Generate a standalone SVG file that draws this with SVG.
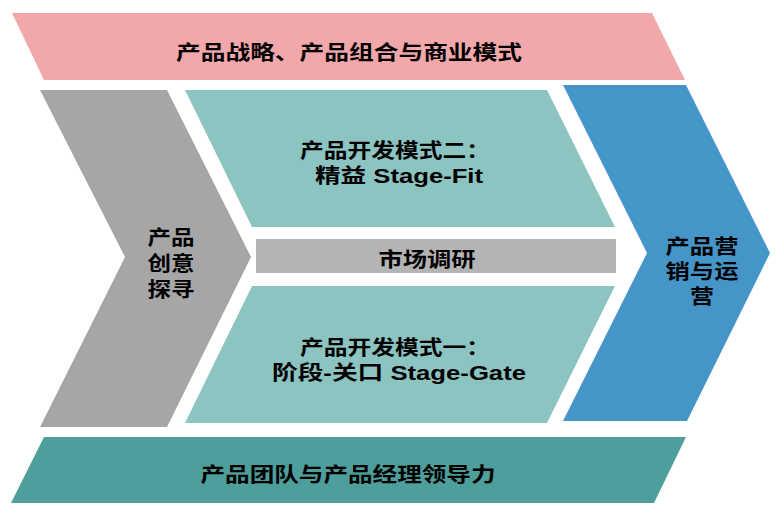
<svg xmlns="http://www.w3.org/2000/svg" width="784" height="513" viewBox="0 0 784 513">
<style>
.t{font-family:"Liberation Sans","Noto Sans CJK SC","Microsoft YaHei",sans-serif;font-weight:700;font-size:20px;fill:#000;text-anchor:middle}
</style>
<rect width="784" height="513" fill="#fff"/>
<g id="top-banner">
<polygon points="12,13 652,13 685,80 44,80" fill="#F2A7AB"/>
<text class="t" x="349" y="60" textLength="346" lengthAdjust="spacingAndGlyphs">产品战略、产品组合与商业模式</text>
</g>
<g id="idea">
<polygon points="40,90 167,90 251,257 167,427 40,427 125,257" fill="#A6A6A6"/>
<text class="t"><tspan x="171" y="245" textLength="47" lengthAdjust="spacingAndGlyphs">产品</tspan><tspan x="171" y="271" textLength="47" lengthAdjust="spacingAndGlyphs">创意</tspan><tspan x="171" y="297" textLength="47" lengthAdjust="spacingAndGlyphs">探寻</tspan></text>
</g>
<g id="lean">
<polygon points="185,90 547,90 615,227 252,227" fill="#8CC4C1"/>
<text class="t"><tspan x="395" y="158" textLength="190" lengthAdjust="spacingAndGlyphs">产品开发模式二：</tspan><tspan x="399" y="183" textLength="168" lengthAdjust="spacingAndGlyphs">精益 Stage-Fit</tspan></text>
</g>
<g id="research">
<rect x="256" y="239" width="360" height="34" fill="#B4B4B4"/>
<text class="t" x="427" y="267" textLength="97" lengthAdjust="spacingAndGlyphs">市场调研</text>
</g>
<g id="stage-gate">
<polygon points="252,286 615,286 547,423 185,423" fill="#8CC4C1"/>
<text class="t"><tspan x="395" y="355" textLength="190" lengthAdjust="spacingAndGlyphs">产品开发模式一：</tspan><tspan x="399" y="380" textLength="254" lengthAdjust="spacingAndGlyphs">阶段-关口 Stage-Gate</tspan></text>
</g>
<g id="marketing">
<polygon points="563,85 686,85 770,253 687,421 563,421 647,253" fill="#4595C9"/>
<text class="t"><tspan x="702" y="254" textLength="73" lengthAdjust="spacingAndGlyphs">产品营</tspan><tspan x="702" y="279" textLength="73" lengthAdjust="spacingAndGlyphs">销与运</tspan><tspan x="702" y="304" textLength="24" lengthAdjust="spacingAndGlyphs">营</tspan></text>
</g>
<g id="bottom-banner">
<polygon points="44,437 686,437 654,503 11,503" fill="#4E9E9B"/>
<text class="t" x="348" y="482" textLength="295" lengthAdjust="spacingAndGlyphs">产品团队与产品经理领导力</text>
</g>
<g id="connectors"/>
</svg>
